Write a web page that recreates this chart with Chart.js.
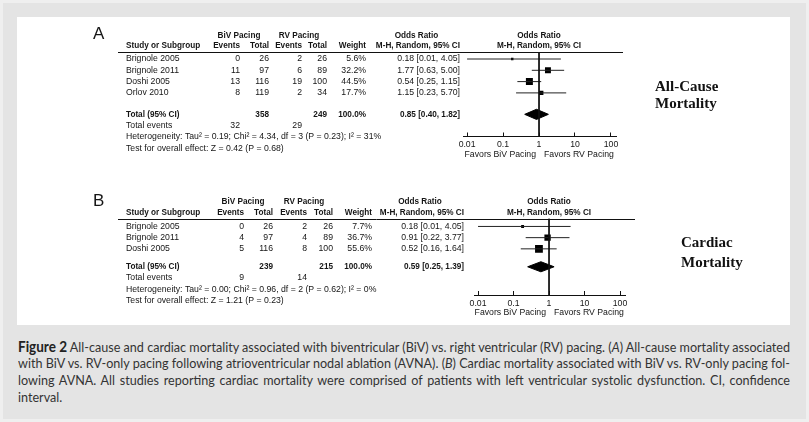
<!DOCTYPE html>
<html>
<head>
<meta charset="utf-8">
<script src="https://cdn.jsdelivr.net/npm/chart.js@4.4.1/dist/chart.umd.min.js"></script>
<style>
body { margin: 0; width: 809px; height: 422px; background: #efefef; position: relative; overflow: hidden; }
#frame { position: absolute; left: 3px; top: 3px; width: 803px; height: 416px; background: #e4e4e4; }
#panel { position: absolute; left: 17px; top: 17px; width: 773px; height: 308px; background: #fff; }
#panel canvas { position: absolute; left: 0; }
#cvA { top: 0; }
#cvB { top: 163px; }
#caption { position: absolute; left: 18px; top: 338px; width: 772px; color: #333;
  font: 13.5px Lato, 'Open Sans', sans-serif; line-height: 17px; }
#caption b { font-size: 14.5px; color: #222; }
#caption div { height: 17px; white-space: nowrap; }
#caption span { display: inline-block; transform-origin: 0 0; }
</style>
</head>
<body>
<div id="frame"></div>
<div id="panel">
  <canvas id="cvA" width="773" height="160"></canvas>
  <canvas id="cvB" width="773" height="145"></canvas>
</div>
<div id="caption">
  <div class="ln"><span><b>Figure 2</b> All-cause and cardiac mortality associated with biventricular (BiV) vs. right ventricular (RV) pacing. (<i>A</i>) All-cause mortality associated</span></div>
  <div class="ln"><span>with BiV vs. RV-only pacing following atrioventricular nodal ablation (AVNA). (<i>B</i>) Cardiac mortality associated with BiV vs. RV-only pacing fol-</span></div>
  <div class="ln"><span>lowing AVNA. All studies reporting cardiac mortality were comprised of patients with left ventricular systolic dysfunction. CI, confidence</span></div>
  <div><span>interval.</span></div>
</div>
<script>
// ============================
// FOREST PLOTS (RevMan style)
// ============================

const xTicks = [0.01, 0.1, 1, 10, 100];
const xTickLabels = ['0.01', '0.1', '1', '10', '100'];

// ----- A: all-cause mortality -----
const studiesA = ['Brignole 2005', 'Brignole 2011', 'Doshi 2005', 'Orlov 2010'];
const bivEventsA = [0, 11, 13, 8];
const bivTotalA = [26, 97, 116, 119];
const rvEventsA = [2, 6, 19, 2];
const rvTotalA = [26, 89, 100, 34];
const weightA = [5.6, 32.2, 44.5, 17.7];
const orA = [0.18, 1.77, 0.54, 1.15];
const lowA = [0.01, 0.63, 0.25, 0.23];
const highA = [4.05, 5.00, 1.15, 5.70];
const pooledA = [0.85, 0.40, 1.82];      // OR, low, high
const sumTotalA = [358, 249];
const sumEventsA = [32, 29];
const hetA = 'Heterogeneity: Tau\u00b2 = 0.19; Chi\u00b2 = 4.34, df = 3 (P = 0.23); I\u00b2 = 31%';
const testA = 'Test for overall effect: Z = 0.42 (P = 0.68)';

// ----- B: cardiac mortality -----
const studiesB = ['Brignole 2005', 'Brignole 2011', 'Doshi 2005'];
const bivEventsB = [0, 4, 5];
const bivTotalB = [26, 97, 116];
const rvEventsB = [2, 4, 8];
const rvTotalB = [26, 89, 100];
const weightB = [7.7, 36.7, 55.6];
const orB = [0.18, 0.91, 0.52];
const lowB = [0.01, 0.22, 0.16];
const highB = [4.05, 3.77, 1.64];
const pooledB = [0.59, 0.25, 1.39];
const sumTotalB = [239, 215];
const sumEventsB = [9, 14];
const hetB = 'Heterogeneity: Tau\u00b2 = 0.00; Chi\u00b2 = 0.96, df = 2 (P = 0.62); I\u00b2 = 0%';
const testB = 'Test for overall effect: Z = 1.21 (P = 0.23)';

const INK = '#151515';
const FONT = '"Liberation Sans", Arial, sans-serif';
const FS = 8.7;
const FSB = 8.2;

const panels = [
  {
    canvas: 'cvA', letter: 'A', oy: 17,
    studies: studiesA, bivEv: bivEventsA, bivTot: bivTotalA, rvEv: rvEventsA, rvTot: rvTotalA,
    weight: weightA, or: orA, lo: lowA, hi: highA, pooled: pooledA, sumTot: sumTotalA, sumEv: sumEventsA,
    het: hetA, test: testA, side: ['All-Cause', 'Mortality'], sideX: 655, sideY: [87, 104],
    cols: { evR: 240, totR: 269, rvEvR: 302, rvTotR: 327, wR: 366, orR: 460, orL: 373, lineR: 623 },
    yMin: -0.62, yMax: 6.86, totalRow: 4.9,
    pad: { left: 446, right: 174, top: 35, bottom: 10.5 }
  },
  {
    canvas: 'cvB', letter: 'B', oy: 180,
    studies: studiesB, bivEv: bivEventsB, bivTot: bivTotalB, rvEv: rvEventsB, rvTot: rvTotalB,
    weight: weightB, or: orB, lo: lowB, hi: highB, pooled: pooledB, sumTot: sumTotalB, sumEv: sumEventsB,
    het: hetB, test: testB, side: ['Cardiac', 'Mortality'], sideX: 681, sideY: [243, 263],
    cols: { evR: 244, totR: 273, rvEvR: 307, rvTotR: 333, wR: 372, orR: 464, orL: 376, lineR: 635 },
    yMin: -0.71, yMax: 6.12, totalRow: 3.6,
    pad: { left: 457, right: 165, top: 38.5, bottom: 0 }
  }
];

const fmt2 = v => v.toFixed(2);
const orText = (o, l, h) => `${fmt2(o)} [${fmt2(l)}, ${fmt2(h)}]`;

// texte du tableau + etiquettes
function tablePlugin(p) {
  return {
    id: 'table' + p.letter,
    afterDraw(chart) {
      const ctx = chart.ctx;
      const ys = chart.scales.y, xs = chart.scales.x;
      const ox = 17;
      const c = p.cols;
      const X = v => v - ox;
      const row = i => ys.getPixelForValue(i);
      const top = chart.chartArea.top;
      const bottom = chart.chartArea.bottom;
      const x1 = xs.getPixelForValue(1);
      const put = (s, px, py, align, bold) => {
        ctx.font = bold ? 'bold ' + FSB + 'px ' + FONT : FS + 'px ' + FONT;
        ctx.textAlign = align;
        ctx.fillText(s, px, py);
      };
      ctx.save();
      ctx.fillStyle = INK;
      ctx.textBaseline = 'middle';

      ctx.font = '17px ' + FONT;
      ctx.textAlign = 'left';
      ctx.fillText(p.letter, X(93), top - 17.5);

      // headers
      const h1 = top - 16.5, h2 = top - 6;
      put('BiV Pacing', X(c.evR - 1), h1, 'center', true);
      put('RV Pacing', X(c.rvEvR - 3), h1, 'center', true);
      put('Odds Ratio', X((c.orL + c.orR) / 2), h1, 'center', true);
      put('Odds Ratio', x1, h1, 'center', true);
      put('Study or Subgroup', X(126), h2, 'left', true);
      put('Events', X(c.evR), h2, 'right', true);
      put('Total', X(c.totR), h2, 'right', true);
      put('Events', X(c.rvEvR), h2, 'right', true);
      put('Total', X(c.rvTotR), h2, 'right', true);
      put('Weight', X(c.wR), h2, 'right', true);
      put('M-H, Random, 95% CI', X(c.orR), h2, 'right', true);
      put('M-H, Random, 95% CI', x1, h2, 'center', true);

      ctx.strokeStyle = '#111';
      ctx.lineWidth = 1;
      ctx.beginPath();
      ctx.moveTo(X(118), Math.round(top) + 0.5);
      ctx.lineTo(X(c.lineR), Math.round(top) + 0.5);
      ctx.stroke();

      // study rows
      p.studies.forEach((s, i) => {
        const y = row(i);
        put(s, X(126), y, 'left');
        put(String(p.bivEv[i]), X(c.evR), y, 'right');
        put(String(p.bivTot[i]), X(c.totR), y, 'right');
        put(String(p.rvEv[i]), X(c.rvEvR), y, 'right');
        put(String(p.rvTot[i]), X(c.rvTotR), y, 'right');
        put(p.weight[i].toFixed(1) + '%', X(c.wR), y, 'right');
        put(orText(p.or[i], p.lo[i], p.hi[i]), X(c.orR), y, 'right');
      });

      // total rows
      const yt = row(p.totalRow);
      put('Total (95% CI)', X(126), yt, 'left', true);
      put(String(p.sumTot[0]), X(c.totR), yt, 'right', true);
      put(String(p.sumTot[1]), X(c.rvTotR), yt, 'right', true);
      put('100.0%', X(c.wR), yt, 'right', true);
      put(orText(p.pooled[0], p.pooled[1], p.pooled[2]), X(c.orR), yt, 'right', true);
      const ye = row(p.totalRow + 1);
      put('Total events', X(126), ye, 'left');
      put(String(p.sumEv[0]), X(c.evR), ye, 'right');
      put(String(p.sumEv[1]), X(c.rvEvR), ye, 'right');
      put(p.het, X(126), row(p.totalRow + 2), 'left');
      put(p.test, X(126), row(p.totalRow + 3), 'left');

      // favors
      put('Favors BiV Pacing', x1 - 3, bottom + 18, 'right');
      put('Favors RV Pacing', x1 + 5, bottom + 18, 'left');

      // side label
      ctx.font = 'bold 15px "Liberation Serif", "Times New Roman", serif';
      ctx.textAlign = 'left';
      ctx.fillStyle = '#111';
      ctx.fillText(p.side[0], X(p.sideX), p.sideY[0] - p.oy);
      ctx.fillText(p.side[1], X(p.sideX), p.sideY[1] - p.oy);
      ctx.restore();
    }
  };
}

function buildPanel(p) {
  const datasets = [];
  // ligne verticale OR = 1
  datasets.push({
    data: [{ x: 1, y: p.yMin }, { x: 1, y: p.yMax }],
    showLine: true, borderColor: '#111', borderWidth: 1, pointRadius: 0
  });
  // intervalles de confiance
  p.studies.forEach((s, i) => {
    datasets.push({
      data: [{ x: p.lo[i], y: i }, { x: p.hi[i], y: i }],
      showLine: true, borderColor: '#222', borderWidth: 1, pointRadius: 0
    });
  });
  // carres (taille ~ poids)
  datasets.push({
    data: p.or.map((v, i) => ({ x: v, y: i })),
    pointStyle: 'rect',
    pointRadius: p.weight.map(w => Math.sqrt(w) * 0.74),
    backgroundColor: '#000', borderColor: '#000', borderWidth: 0
  });
  // losange total
  const t = p.totalRow, h = 0.45;
  datasets.push({
    data: [
      { x: p.pooled[1], y: t }, { x: p.pooled[0], y: t - h },
      { x: p.pooled[2], y: t }, { x: p.pooled[0], y: t + h }, { x: p.pooled[1], y: t }
    ],
    showLine: true, fill: 'shape', backgroundColor: '#000', borderColor: '#000',
    borderWidth: 1, pointRadius: 0, tension: 0
  });

  return new Chart(document.getElementById(p.canvas).getContext('2d'), {
    type: 'scatter',
    data: { datasets },
    options: {
      responsive: false,
      animation: false,
      devicePixelRatio: 1,
      layout: { padding: p.pad },
      plugins: { legend: { display: false }, tooltip: { enabled: false } },
      scales: {
        x: {
          type: 'logarithmic',
          min: 0.0077, max: 138,
          afterBuildTicks: scale => { scale.ticks = xTicks.map(v => ({ value: v })); },
          afterFit: scale => { scale.height = 30; },
          ticks: {
            autoSkip: false, maxRotation: 0, padding: 7, color: INK,
            font: { family: FONT, size: FS },
            callback: (v, i) => xTickLabels[i]
          },
          grid: { drawOnChartArea: false, drawTicks: true, tickLength: -4, color: '#111' },
          border: { color: '#111', width: 1 }
        },
        y: { type: 'linear', display: false, reverse: true, min: p.yMin, max: p.yMax }
      }
    },
    plugins: [tablePlugin(p)]
  });
}

panels.forEach(buildPanel);

// legende : lignes justifiees sur 772 px
const capW = 772;
const spans = [...document.querySelectorAll('#caption span')];
const widths = spans.map(s => s.getBoundingClientRect().width);
const k = Math.min(1, capW / Math.max(...widths));
spans.forEach((s, i) => {
  if (s.parentNode.classList.contains('ln')) {
    const n = (s.textContent.match(/ /g) || []).length;
    s.style.wordSpacing = ((capW / k - widths[i]) / n) + 'px';
  }
  s.style.transform = `scaleX(${k})`;
});
</script>
</body>
</html>
